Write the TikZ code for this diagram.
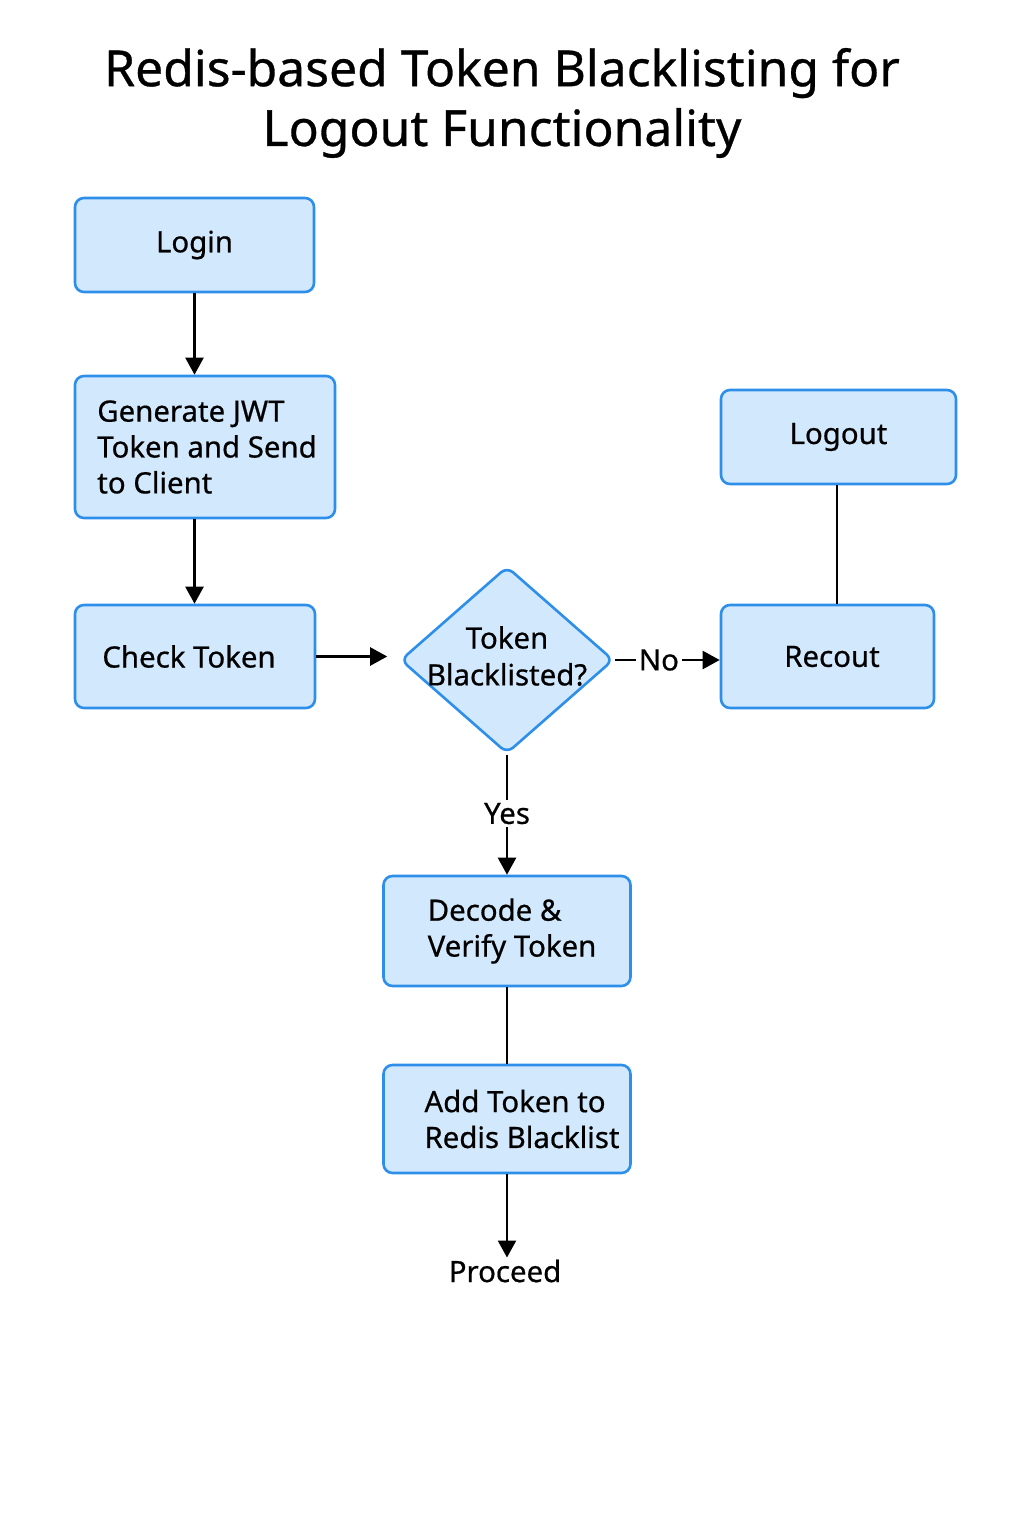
\documentclass[tikz,border=0pt]{standalone}
\usepackage{fontspec}
\setmainfont{Noto Sans}[FakeBold=0.6]
\usetikzlibrary{shapes.geometric,arrows.meta}
\definecolor{boxfill}{HTML}{D2E8FC}
\definecolor{boxline}{HTML}{2E8FEA}
\begin{document}
\begin{tikzpicture}[x=1bp,y=-1bp,
  bfont/.style={font=\fontsize{29.5}{36}\selectfont},
  box/.style={draw=boxline,fill=boxfill,line width=2.6bp,rounded corners=9bp,
    inner sep=0pt,bfont},
  lbox/.style={box,align=left},
  cbox/.style={box,align=center},
  dec/.style={draw=boxline,fill=boxfill,line width=2.6bp,diamond,rounded corners=8bp,
    inner sep=0pt},
  conn/.style={line width=2.4bp,black},
  arr/.style={conn,-{Triangle[length=17bp,width=18bp]}},
  lbl/.style={fill=white,inner sep=3bp,font=\fontsize{29.5}{32}\selectfont}]
\useasboundingbox (0,0) rectangle (1024,1536);
\node[align=center,font=\fontsize{50}{60}\selectfont] (title) at (502,103)
  {Redis-based Token Blacklisting for\\Logout Functionality};
\node[cbox,minimum width=239bp,minimum height=94bp] (login) at (194.5,245) {Login};
\node[lbox,minimum width=260bp,minimum height=142bp] (gen) at (205,447)
  {\hspace*{4bp}Generate JWT\\\hspace*{4bp}Token and Send\\\hspace*{4bp}to Client};
\node[cbox,minimum width=240bp,minimum height=103bp] (check) at (195,656.5)
  {Check Token\hspace*{12bp}};
\node[dec,minimum width=213bp,minimum height=187bp,
  label={[bfont,align=center,font=\fontsize{29.5}{37}\selectfont,yshift=4bp]center:Token\\Blacklisted?}]
  (dia) at (507,660) {};
\node[cbox,minimum width=213bp,minimum height=103bp] (recout) at (827.5,656.5)
  {\hspace*{9bp}Recout};
\node[cbox,minimum width=235bp,minimum height=94bp] (logout) at (838.5,437) {Logout};
\node[lbox,minimum width=247bp,minimum height=110bp] (dv) at (507,931)
  {\hspace*{10bp}Decode \&\\\hspace*{10bp}Verify Token};
\node[lbox,minimum width=247bp,minimum height=108bp] (add) at (507,1119)
  {\hspace*{30bp}Add Token to\\\hspace*{30bp}Redis Blacklist};
\node[font=\fontsize{29.5}{32}\selectfont,inner sep=2bp] (proc) at (505,1271) {Proceed};
\draw[arr] (login.south) -- (login.south |- gen.north);
\draw[arr] (login.south |- gen.south) -- (login.south |- check.north);
\draw[arr,shorten >=12bp] (check.east) -- (check.east -| dia.west);
\draw[arr] (dia.east) -- node[lbl,pos=0.42]{No} (dia.east -| recout.west);
\draw[conn] (logout.south -| 837,0) -- (recout.north -| 837,0);
\draw[arr] (dia.south) -- node[lbl,pos=0.49]{Yes} (dv.north);
\draw[conn] (dv.south) -- (add.north);
\draw[arr] (add.south) -- (add.south |- proc.north);
\end{tikzpicture}
\end{document}
